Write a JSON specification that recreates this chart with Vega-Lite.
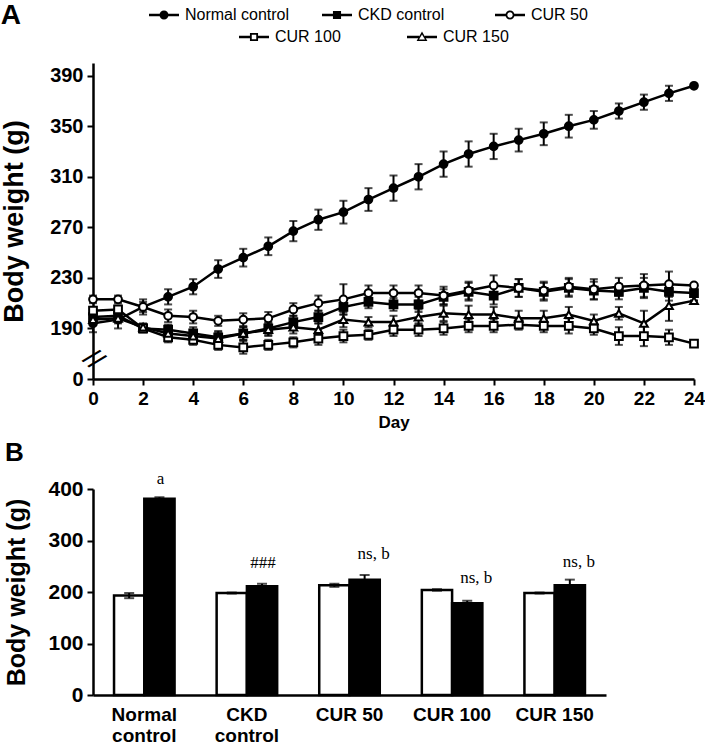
{
  "$schema": "https://vega.github.io/schema/vega-lite/v6.json",
  "padding": {"top": 0, "left": 0, "right": 0, "bottom": 0},
  "background": "white",
  "config": {
    "font": "Liberation Sans",
    "view": {"stroke": null},
    "axis": {"domainColor": "black", "domainWidth": 2.5, "tickColor": "black", "tickWidth": 2, "tickSize": 6, "labelColor": "black", "labelFontWeight": "bold", "titleColor": "black", "titleFontWeight": "bold", "grid": false, "labelFont": "Liberation Sans", "titleFont": "Liberation Sans"},
    "legend": {"labelFont": "Liberation Sans", "labelColor": "black"},
    "title": {"font": "Liberation Sans", "fontWeight": "bold", "color": "black"},
    "concat": {"spacing": 10}
  },
  "datasets": {
    "growth": [
      {"series": "Normal control", "day": 0, "mean": 194, "sem": 7},
      {"series": "Normal control", "day": 1, "mean": 197, "sem": 7},
      {"series": "Normal control", "day": 2, "mean": 207, "sem": 6},
      {"series": "Normal control", "day": 3, "mean": 215, "sem": 6},
      {"series": "Normal control", "day": 4, "mean": 223, "sem": 6},
      {"series": "Normal control", "day": 5, "mean": 237, "sem": 7},
      {"series": "Normal control", "day": 6, "mean": 246, "sem": 7},
      {"series": "Normal control", "day": 7, "mean": 255, "sem": 7},
      {"series": "Normal control", "day": 8, "mean": 267, "sem": 8},
      {"series": "Normal control", "day": 9, "mean": 276, "sem": 8},
      {"series": "Normal control", "day": 10, "mean": 282, "sem": 9},
      {"series": "Normal control", "day": 11, "mean": 292, "sem": 9},
      {"series": "Normal control", "day": 12, "mean": 301, "sem": 10},
      {"series": "Normal control", "day": 13, "mean": 310, "sem": 10},
      {"series": "Normal control", "day": 14, "mean": 320, "sem": 10},
      {"series": "Normal control", "day": 15, "mean": 328, "sem": 10},
      {"series": "Normal control", "day": 16, "mean": 334, "sem": 10},
      {"series": "Normal control", "day": 17, "mean": 339, "sem": 9},
      {"series": "Normal control", "day": 18, "mean": 344, "sem": 9},
      {"series": "Normal control", "day": 19, "mean": 350, "sem": 9},
      {"series": "Normal control", "day": 20, "mean": 355, "sem": 7},
      {"series": "Normal control", "day": 21, "mean": 362, "sem": 6},
      {"series": "Normal control", "day": 22, "mean": 369, "sem": 6},
      {"series": "Normal control", "day": 23, "mean": 376, "sem": 6},
      {"series": "Normal control", "day": 24, "mean": 382, "sem": 0},
      {"series": "CKD control", "day": 0, "mean": 199, "sem": 4},
      {"series": "CKD control", "day": 1, "mean": 200, "sem": 5},
      {"series": "CKD control", "day": 2, "mean": 190, "sem": 3},
      {"series": "CKD control", "day": 3, "mean": 189, "sem": 4},
      {"series": "CKD control", "day": 4, "mean": 186, "sem": 5},
      {"series": "CKD control", "day": 5, "mean": 183, "sem": 5},
      {"series": "CKD control", "day": 6, "mean": 186, "sem": 5},
      {"series": "CKD control", "day": 7, "mean": 190, "sem": 5},
      {"series": "CKD control", "day": 8, "mean": 195, "sem": 5},
      {"series": "CKD control", "day": 9, "mean": 199, "sem": 5},
      {"series": "CKD control", "day": 10, "mean": 207, "sem": 6},
      {"series": "CKD control", "day": 11, "mean": 211, "sem": 5},
      {"series": "CKD control", "day": 12, "mean": 209, "sem": 5},
      {"series": "CKD control", "day": 13, "mean": 209, "sem": 6},
      {"series": "CKD control", "day": 14, "mean": 215, "sem": 6},
      {"series": "CKD control", "day": 15, "mean": 219, "sem": 7},
      {"series": "CKD control", "day": 16, "mean": 216, "sem": 7},
      {"series": "CKD control", "day": 17, "mean": 222, "sem": 7},
      {"series": "CKD control", "day": 18, "mean": 219, "sem": 7},
      {"series": "CKD control", "day": 19, "mean": 222, "sem": 7},
      {"series": "CKD control", "day": 20, "mean": 220, "sem": 7},
      {"series": "CKD control", "day": 21, "mean": 219, "sem": 6},
      {"series": "CKD control", "day": 22, "mean": 222, "sem": 8},
      {"series": "CKD control", "day": 23, "mean": 219, "sem": 7},
      {"series": "CKD control", "day": 24, "mean": 218, "sem": 0},
      {"series": "CUR 50", "day": 0, "mean": 213, "sem": 3},
      {"series": "CUR 50", "day": 1, "mean": 213, "sem": 3},
      {"series": "CUR 50", "day": 2, "mean": 207, "sem": 4},
      {"series": "CUR 50", "day": 3, "mean": 200, "sem": 5},
      {"series": "CUR 50", "day": 4, "mean": 199, "sem": 5},
      {"series": "CUR 50", "day": 5, "mean": 196, "sem": 4},
      {"series": "CUR 50", "day": 6, "mean": 197, "sem": 5},
      {"series": "CUR 50", "day": 7, "mean": 198, "sem": 5},
      {"series": "CUR 50", "day": 8, "mean": 205, "sem": 5},
      {"series": "CUR 50", "day": 9, "mean": 210, "sem": 6},
      {"series": "CUR 50", "day": 10, "mean": 213, "sem": 12},
      {"series": "CUR 50", "day": 11, "mean": 218, "sem": 6},
      {"series": "CUR 50", "day": 12, "mean": 218, "sem": 6},
      {"series": "CUR 50", "day": 13, "mean": 218, "sem": 6},
      {"series": "CUR 50", "day": 14, "mean": 216, "sem": 7},
      {"series": "CUR 50", "day": 15, "mean": 220, "sem": 7},
      {"series": "CUR 50", "day": 16, "mean": 224, "sem": 8},
      {"series": "CUR 50", "day": 17, "mean": 222, "sem": 7},
      {"series": "CUR 50", "day": 18, "mean": 220, "sem": 7},
      {"series": "CUR 50", "day": 19, "mean": 223, "sem": 7},
      {"series": "CUR 50", "day": 20, "mean": 221, "sem": 8},
      {"series": "CUR 50", "day": 21, "mean": 223, "sem": 7},
      {"series": "CUR 50", "day": 22, "mean": 224, "sem": 9},
      {"series": "CUR 50", "day": 23, "mean": 225, "sem": 10},
      {"series": "CUR 50", "day": 24, "mean": 224, "sem": 0},
      {"series": "CUR 100", "day": 0, "mean": 204, "sem": 3},
      {"series": "CUR 100", "day": 1, "mean": 205, "sem": 3},
      {"series": "CUR 100", "day": 2, "mean": 190, "sem": 3},
      {"series": "CUR 100", "day": 3, "mean": 183, "sem": 4},
      {"series": "CUR 100", "day": 4, "mean": 181, "sem": 4},
      {"series": "CUR 100", "day": 5, "mean": 177, "sem": 4},
      {"series": "CUR 100", "day": 6, "mean": 175, "sem": 5},
      {"series": "CUR 100", "day": 7, "mean": 177, "sem": 4},
      {"series": "CUR 100", "day": 8, "mean": 179, "sem": 4},
      {"series": "CUR 100", "day": 9, "mean": 182, "sem": 5},
      {"series": "CUR 100", "day": 10, "mean": 184, "sem": 5},
      {"series": "CUR 100", "day": 11, "mean": 185, "sem": 4},
      {"series": "CUR 100", "day": 12, "mean": 189, "sem": 5},
      {"series": "CUR 100", "day": 13, "mean": 189, "sem": 5},
      {"series": "CUR 100", "day": 14, "mean": 190, "sem": 5},
      {"series": "CUR 100", "day": 15, "mean": 192, "sem": 5},
      {"series": "CUR 100", "day": 16, "mean": 192, "sem": 5},
      {"series": "CUR 100", "day": 17, "mean": 193, "sem": 4},
      {"series": "CUR 100", "day": 18, "mean": 192, "sem": 5},
      {"series": "CUR 100", "day": 19, "mean": 192, "sem": 6},
      {"series": "CUR 100", "day": 20, "mean": 190, "sem": 5},
      {"series": "CUR 100", "day": 21, "mean": 184, "sem": 7},
      {"series": "CUR 100", "day": 22, "mean": 184, "sem": 8},
      {"series": "CUR 100", "day": 23, "mean": 183, "sem": 6},
      {"series": "CUR 100", "day": 24, "mean": 178, "sem": 0},
      {"series": "CUR 150", "day": 0, "mean": 197, "sem": 4},
      {"series": "CUR 150", "day": 1, "mean": 198, "sem": 4},
      {"series": "CUR 150", "day": 2, "mean": 191, "sem": 3},
      {"series": "CUR 150", "day": 3, "mean": 186, "sem": 4},
      {"series": "CUR 150", "day": 4, "mean": 184, "sem": 5},
      {"series": "CUR 150", "day": 5, "mean": 182, "sem": 5},
      {"series": "CUR 150", "day": 6, "mean": 186, "sem": 5},
      {"series": "CUR 150", "day": 7, "mean": 189, "sem": 5},
      {"series": "CUR 150", "day": 8, "mean": 191, "sem": 5},
      {"series": "CUR 150", "day": 9, "mean": 189, "sem": 5},
      {"series": "CUR 150", "day": 10, "mean": 197, "sem": 6},
      {"series": "CUR 150", "day": 11, "mean": 195, "sem": 4},
      {"series": "CUR 150", "day": 12, "mean": 195, "sem": 5},
      {"series": "CUR 150", "day": 13, "mean": 199, "sem": 6},
      {"series": "CUR 150", "day": 14, "mean": 202, "sem": 6},
      {"series": "CUR 150", "day": 15, "mean": 201, "sem": 7},
      {"series": "CUR 150", "day": 16, "mean": 201, "sem": 6},
      {"series": "CUR 150", "day": 17, "mean": 198, "sem": 6},
      {"series": "CUR 150", "day": 18, "mean": 198, "sem": 6},
      {"series": "CUR 150", "day": 19, "mean": 201, "sem": 6},
      {"series": "CUR 150", "day": 20, "mean": 196, "sem": 5},
      {"series": "CUR 150", "day": 21, "mean": 202, "sem": 5},
      {"series": "CUR 150", "day": 22, "mean": 194, "sem": 10},
      {"series": "CUR 150", "day": 23, "mean": 208, "sem": 12},
      {"series": "CUR 150", "day": 24, "mean": 212, "sem": 0}
    ],
    "final": [
      {"group": "Normal control", "time": "Day 0", "mean": 193, "sem": 5},
      {"group": "Normal control", "time": "Day 24", "mean": 381, "sem": 3},
      {"group": "CKD control", "time": "Day 0", "mean": 198, "sem": 1},
      {"group": "CKD control", "time": "Day 24", "mean": 211, "sem": 5},
      {"group": "CUR 50", "time": "Day 0", "mean": 213, "sem": 3},
      {"group": "CUR 50", "time": "Day 24", "mean": 224, "sem": 9},
      {"group": "CUR 100", "time": "Day 0", "mean": 204, "sem": 1.5},
      {"group": "CUR 100", "time": "Day 24", "mean": 178, "sem": 5},
      {"group": "CUR 150", "time": "Day 0", "mean": 198, "sem": 1},
      {"group": "CUR 150", "time": "Day 24", "mean": 213, "sem": 11}
    ],
    "notes": [
      {"group": "Normal control", "time": "Day 24", "y": 419, "label": "a", "kind": "near"},
      {"group": "CKD control", "time": "Day 24", "y": 256, "label": "###", "kind": "near"},
      {"group": "CUR 50", "time": "Day 24", "y": 273.5, "label": "ns, b", "kind": "far"},
      {"group": "CUR 100", "time": "Day 24", "y": 228, "label": "ns, b", "kind": "far"},
      {"group": "CUR 150", "time": "Day 24", "y": 259, "label": "ns, b", "kind": "far"}
    ],
    "axisbreak": [{"day": 0, "mean": 165}]
  },
  "vconcat": [
    {
      "width": 601,
      "height": 316,
      "title": {"text": "A", "anchor": "start", "frame": "bounds", "fontSize": 28, "offset": -30},
      "data": {"name": "growth"},
      "resolve": {"scale": {"shape": "independent", "fill": "independent"}},
      "layer": [
        {
          "mark": {"type": "line", "color": "black", "strokeWidth": 2.5},
          "encoding": {
            "x": {"field": "day", "type": "quantitative", "title": "Day", "scale": {"domain": [0, 24], "nice": false, "zero": false},
              "axis": {"values": [0,1,2,3,4,5,6,7,8,9,10,11,12,13,14,15,16,17,18,19,20,21,22,23,24], "labelExpr": "datum.value % 2 == 0 ? datum.label : ''", "titleFontSize": 17, "labelFontSize": 19, "labelPadding": 4, "titlePadding": 6, "labelFlush": false, "labelOverlap": false}},
            "y": {"field": "mean", "type": "quantitative", "title": "Body weight (g)", "scale": {"domain": [150, 400], "nice": false, "zero": false},
              "axis": {"values": [150, 190, 230, 270, 310, 350, 390], "labelExpr": "datum.value == 150 ? '0' : datum.label", "titleFontSize": 27, "labelFontSize": 20, "labelPadding": 4, "titlePadding": 21}},
            "detail": {"field": "series", "type": "nominal"}
          }
        },
        {
          "mark": {"type": "errorbar", "ticks": true, "size": 8, "thickness": 2, "color": "black"},
          "encoding": {
            "x": {"field": "day", "type": "quantitative", "title": "Day"},
            "y": {"field": "mean", "type": "quantitative", "title": "Body weight (g)"},
            "yError": {"field": "sem"}
          }
        },
        {
          "mark": {"type": "point", "filled": true, "stroke": "black", "strokeWidth": 2, "size": 60, "opacity": 1},
          "encoding": {
            "x": {"field": "day", "type": "quantitative", "title": "Day"},
            "y": {"field": "mean", "type": "quantitative", "title": "Body weight (g)"},
            "shape": {"field": "series", "type": "nominal", "scale": {"domain": ["Normal control", "CKD control", "CUR 50", "CUR 100", "CUR 150"], "range": ["circle", "square", "circle", "square", "triangle-up"]}, "legend": null},
            "fill": {"field": "series", "type": "nominal", "scale": {"domain": ["Normal control", "CKD control", "CUR 50", "CUR 100", "CUR 150"], "range": ["black", "black", "white", "white", "white"]}, "legend": null}
          }
        },
        {
          "transform": [{"filter": {"field": "series", "oneOf": ["Normal control", "CKD control", "CUR 50"]}}],
          "mark": {"type": "point", "filled": true, "color": "black", "opacity": 0},
          "encoding": {
            "x": {"field": "day", "type": "quantitative", "title": "Day"},
            "y": {"field": "mean", "type": "quantitative", "title": "Body weight (g)"},
            "shape": {"field": "series", "type": "nominal",
              "scale": {"domain": ["Normal control", "CKD control", "CUR 50"], "range": [
                "M-1,-0.08H-0.28V0.08H-1ZM0.28,-0.08H1V0.08H0.28ZM-0.3,0A0.3,0.3,0,1,1,0.3,0A0.3,0.3,0,1,1,-0.3,0Z",
                "M-1,-0.08H-0.26V0.08H-1ZM0.26,-0.08H1V0.08H0.26ZM-0.27,-0.27H0.27V0.27H-0.27Z",
                "M-1,-0.08H-0.28V0.08H-1ZM0.28,-0.08H1V0.08H0.28ZM-0.3,0A0.3,0.3,0,1,1,0.3,0A0.3,0.3,0,1,1,-0.3,0ZM-0.18,0A0.18,0.18,0,1,0,0.18,0A0.18,0.18,0,1,0,-0.18,0Z"
              ]},
              "legend": {"title": null, "orient": "none", "legendX": 56, "legendY": -63, "direction": "horizontal", "symbolSize": 900, "symbolOpacity": 1, "symbolFillColor": "black", "symbolStrokeWidth": 0, "labelFontSize": 16, "labelOffset": 6, "columnPadding": 32, "gridAlign": "all"}}
          }
        },
        {
          "transform": [{"filter": {"field": "series", "oneOf": ["CUR 100", "CUR 150"]}}],
          "mark": {"type": "point", "filled": true, "color": "black", "opacity": 0},
          "encoding": {
            "x": {"field": "day", "type": "quantitative", "title": "Day"},
            "y": {"field": "mean", "type": "quantitative", "title": "Body weight (g)"},
            "shape": {"field": "series", "type": "nominal",
              "scale": {"domain": ["CUR 100", "CUR 150"], "range": [
                "M-1,-0.08H-0.26V0.08H-1ZM0.26,-0.08H1V0.08H0.26ZM-0.27,-0.27H0.27V0.27H-0.27ZM-0.15,-0.15V0.15H0.15V-0.15Z",
                "M-1,-0.08H-0.19V0.08H-1ZM0.19,-0.08H1V0.08H0.19ZM0,-0.36L0.36,0.26H-0.36ZM0,-0.16L-0.2,0.16H0.2Z"
              ]},
              "legend": {"title": null, "orient": "none", "legendX": 146, "legendY": -41, "direction": "horizontal", "symbolSize": 900, "symbolOpacity": 1, "symbolFillColor": "black", "symbolStrokeWidth": 0, "labelFontSize": 16, "labelOffset": 6, "columnPadding": 66, "gridAlign": "all"}}
          }
        },
        {
          "data": {"name": "axisbreak"},
          "mark": {"type": "text", "text": "//", "fontSize": 28, "angle": 44, "font": "Liberation Sans", "color": "black"},
          "encoding": {
            "x": {"field": "day", "type": "quantitative", "title": "Day"},
            "y": {"field": "mean", "type": "quantitative", "title": "Body weight (g)"}
          }
        }
      ]
    },
    {
      "width": 513,
      "height": 206,
      "title": {"text": "B", "anchor": "start", "frame": "bounds", "fontSize": 26, "offset": 4},
      "layer": [
        {
          "data": {"name": "final"},
          "mark": {"type": "bar", "stroke": "black", "strokeWidth": 2.5},
          "encoding": {
            "x": {"field": "group", "type": "nominal", "title": null, "sort": ["Normal control", "CKD control", "CUR 50", "CUR 100", "CUR 150"],
              "scale": {"paddingInner": 0.41, "paddingOuter": 0.205},
              "axis": {"ticks": false, "labelAngle": 0, "labelFontSize": 19, "labelPadding": 10, "labelLineHeight": 21,
                "labelExpr": "datum.value == 'Normal control' ? ['Normal', 'control'] : datum.value == 'CKD control' ? ['CKD', 'control'] : datum.label"}},
            "xOffset": {"field": "time", "type": "nominal", "sort": ["Day 0", "Day 24"], "scale": {"paddingInner": 0}},
            "y": {"field": "mean", "type": "quantitative", "title": "Body weight (g)", "scale": {"domain": [0, 400], "nice": false},
              "axis": {"values": [0, 50, 100, 150, 200, 250, 300, 350, 400], "labelExpr": "datum.value % 100 == 0 ? datum.label : ''", "titleFontSize": 25, "labelFontSize": 21, "labelPadding": 4, "titlePadding": 18}},
            "fill": {"field": "time", "type": "nominal", "scale": {"domain": ["Day 0", "Day 24"], "range": ["white", "black"]}, "legend": null}
          }
        },
        {
          "data": {"name": "final"},
          "mark": {"type": "errorbar", "ticks": true, "size": 10, "thickness": 2, "color": "black"},
          "encoding": {
            "x": {"field": "group", "type": "nominal", "title": null, "sort": ["Normal control", "CKD control", "CUR 50", "CUR 100", "CUR 150"]},
            "xOffset": {"field": "time", "type": "nominal", "sort": ["Day 0", "Day 24"]},
            "y": {"field": "mean", "type": "quantitative", "title": "Body weight (g)"},
            "yError": {"field": "sem"}
          }
        },
        {
          "data": {"name": "notes"},
          "transform": [{"filter": "datum.kind == 'near'"}],
          "mark": {"type": "text", "font": "Liberation Serif", "fontSize": 17, "baseline": "middle", "dx": 1, "color": "black"},
          "encoding": {
            "x": {"field": "group", "type": "nominal", "title": null, "sort": ["Normal control", "CKD control", "CUR 50", "CUR 100", "CUR 150"]},
            "xOffset": {"field": "time", "type": "nominal", "sort": ["Day 0", "Day 24"]},
            "y": {"field": "y", "type": "quantitative", "title": "Body weight (g)"},
            "text": {"field": "label"}
          }
        },
        {
          "data": {"name": "notes"},
          "transform": [{"filter": "datum.kind == 'far'"}],
          "mark": {"type": "text", "font": "Liberation Serif", "fontSize": 17, "baseline": "middle", "dx": 9, "color": "black"},
          "encoding": {
            "x": {"field": "group", "type": "nominal", "title": null, "sort": ["Normal control", "CKD control", "CUR 50", "CUR 100", "CUR 150"]},
            "xOffset": {"field": "time", "type": "nominal", "sort": ["Day 0", "Day 24"]},
            "y": {"field": "y", "type": "quantitative", "title": "Body weight (g)"},
            "text": {"field": "label"}
          }
        }
      ]
    }
  ]
}
